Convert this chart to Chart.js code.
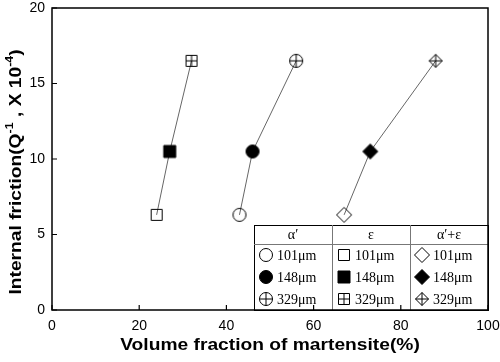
<!DOCTYPE html>
<html lang="en">
<head>
<meta charset="UTF-8">
<title>Internal friction vs martensite</title>
<script src="https://cdn.jsdelivr.net/npm/chart.js"></script>
<style>
  html, body { margin: 0; padding: 0; background: #fff; }
  #wrap { width: 500px; height: 362px; }
</style>
</head>
<body>
<div id="wrap"><canvas id="chart" width="500" height="362"></canvas></div>
<script>
// data
const phases = ['α\u2032', 'ε', 'α\u2032+ε'];
const grainSizes = ['101μm', '148μm', '329μm'];
const alphaFraction = [43, 46, 56];     // alpha' martensite (%)
const epsilonFraction = [24, 27, 32];   // epsilon martensite (%)
const mixedFraction = [67, 73, 88];     // alpha' + epsilon (%)
const frictionValues = [6.3, 10.5, 16.5]; // Q^-1 x 10^-4, per grain size
const xTicks = [0, 20, 40, 60, 80, 100];
const yTicks = [0, 5, 10, 15, 20];

// marker images: open / filled / crossed (open ones are hollow, the line shows through)
function marker(shape, kind) {
  const s = 18, c = s / 2;
  const cv = document.createElement('canvas');
  cv.width = s; cv.height = s;
  const g = cv.getContext('2d');
  g.lineWidth = 1;
  g.strokeStyle = '#000';
  g.fillStyle = '#000';
  let r;
  g.beginPath();
  if (shape === 'circle') {
    r = 6.5;
    g.arc(c, c, r, 0, Math.PI * 2);
  } else if (shape === 'square') {
    r = kind === 'filled' ? 6 : 5.5;
    g.rect(c - r, c - r, r * 2, r * 2);
  } else {
    r = kind === 'crossed' ? 6.5 : 7.5;
    g.moveTo(c, c - r); g.lineTo(c + r, c); g.lineTo(c, c + r); g.lineTo(c - r, c); g.closePath();
  }
  if (kind === 'filled') g.fill();
  g.stroke();
  if (kind === 'crossed') {
    g.beginPath();
    g.moveTo(c - r, c); g.lineTo(c + r, c);
    g.moveTo(c, c - r); g.lineTo(c, c + r);
    g.stroke();
  }
  return cv;
}
const kinds = ['open', 'filled', 'crossed'];
const shapes = ['circle', 'square', 'diamond'];
const markers = shapes.map(sh => kinds.map(k => marker(sh, k)));

const fractions = [alphaFraction, epsilonFraction, mixedFraction];
const datasets = fractions.map((xs, i) => ({
  label: phases[i],
  data: xs.map((x, j) => ({ x: x, y: frictionValues[j] })),
  showLine: true,
  borderColor: '#666',
  borderWidth: 1,
  pointStyle: markers[i],
  pointRadius: 7,
  pointHoverRadius: 7
}));

const tickFont = { family: 'Liberation Sans, Arial, sans-serif', size: 14 };

const decorations = {
  id: 'decorations',
  afterDraw(chart) {
    const ctx = chart.ctx;
    const a = chart.chartArea;
    const xs = chart.scales.x, ys = chart.scales.y;
    ctx.save();

    // legend table (drawn before the frame so the axis line sits on top)
    const tl = 254, tt = 225, tr = a.right, tb = a.bottom;
    const colW = (tr - tl) / 3;
    const headH = 19, rowH = (tb - tt - headH) / 3;
    ctx.fillStyle = '#fff';
    ctx.fillRect(tl, tt, tr - tl, tb - tt);
    ctx.strokeStyle = '#000';
    ctx.lineWidth = 1;
    ctx.strokeRect(tl + 0.5, tt + 0.5, tr - tl, tb - tt);
    ctx.strokeStyle = '#777';
    ctx.beginPath();
    ctx.moveTo(tl, tt + headH + 0.5); ctx.lineTo(tr, tt + headH + 0.5);
    for (let i = 1; i < 3; i++) {
      const cx = Math.round(tl + colW * i) + 0.5;
      ctx.moveTo(cx, tt); ctx.lineTo(cx, tb);
    }
    ctx.stroke();
    ctx.fillStyle = '#000';
    ctx.font = '14px "Liberation Serif", "DejaVu Serif", serif';
    ctx.textBaseline = 'middle';
    for (let i = 0; i < 3; i++) {
      const left = tl + colW * i;
      ctx.textAlign = 'center';
      ctx.fillText(phases[i], left + colW / 2, tt + headH / 2 + 1);
      ctx.textAlign = 'left';
      for (let j = 0; j < 3; j++) {
        const cy = tt + headH + rowH * (j + 0.5);
        const m = markers[i][j];
        ctx.drawImage(m, left + 12 - m.width / 2, cy - m.height / 2);
        ctx.fillText(grainSizes[j], left + 23, cy + 1);
      }
    }

    // frame
    ctx.strokeStyle = '#000';
    ctx.lineWidth = 1.5;
    ctx.strokeRect(a.left, a.top, a.right - a.left, a.bottom - a.top);

    // inward ticks
    ctx.lineWidth = 1.2;
    ctx.beginPath();
    xTicks.forEach(v => {
      const px = xs.getPixelForValue(v);
      ctx.moveTo(px, a.bottom); ctx.lineTo(px, a.bottom - 5);
    });
    yTicks.forEach(v => {
      const py = ys.getPixelForValue(v);
      ctx.moveTo(a.left, py); ctx.lineTo(a.left + 5, py);
    });
    ctx.stroke();

    // axis titles (slightly widened like the original artwork)
    const stretch = 1.13;
    ctx.fillStyle = '#000';
    ctx.textBaseline = 'middle';
    ctx.textAlign = 'center';
    ctx.font = 'bold 17px "Liberation Sans", Arial, sans-serif';
    ctx.save();
    ctx.translate(270, 345);
    ctx.scale(stretch, 1);
    ctx.fillText('Volume fraction of martensite(%)', 0, 0);
    ctx.restore();

    ctx.translate(16, 172);
    ctx.rotate(-Math.PI / 2);
    ctx.scale(stretch, 1);
    const parts = [
      ['Internal friction(Q', false], ['-1', true], [' , X 10', false], ['-4', true], [')', false]
    ];
    const big = 'bold 17px "Liberation Sans", Arial, sans-serif';
    const small = 'bold 11px "Liberation Sans", Arial, sans-serif';
    let total = 0;
    parts.forEach(p => { ctx.font = p[1] ? small : big; total += ctx.measureText(p[0]).width; });
    let x = -total / 2;
    ctx.textAlign = 'left';
    parts.forEach(p => {
      ctx.font = p[1] ? small : big;
      ctx.fillText(p[0], x, p[1] ? -6 : 0);
      x += ctx.measureText(p[0]).width;
    });
    ctx.restore();
  }
};

new Chart(document.getElementById('chart'), {
  type: 'scatter',
  data: { datasets: datasets },
  options: {
    responsive: false,
    animation: false,
    layout: { padding: { top: 6, right: 12, left: 0, bottom: 0 } },
    plugins: { legend: { display: false }, tooltip: { enabled: false } },
    scales: {
      x: {
        type: 'linear', min: 0, max: 100,
        afterBuildTicks: s => { s.ticks = xTicks.map(v => ({ value: v })); },
        afterFit: s => { s.height = 52; s.paddingLeft = 0; s.paddingRight = 0; },
        grid: { display: false, drawTicks: false },
        border: { display: false },
        ticks: { color: '#000', font: tickFont, padding: 8, maxRotation: 0 }
      },
      y: {
        type: 'linear', min: 0, max: 20,
        afterBuildTicks: s => { s.ticks = yTicks.map(v => ({ value: v })); },
        afterFit: s => { s.width = 52; s.paddingTop = 0; s.paddingBottom = 0; },
        grid: { display: false, drawTicks: false },
        border: { display: false },
        ticks: { color: '#000', font: tickFont, padding: 7 }
      }
    }
  },
  plugins: [decorations]
});
</script>
</body>
</html>
